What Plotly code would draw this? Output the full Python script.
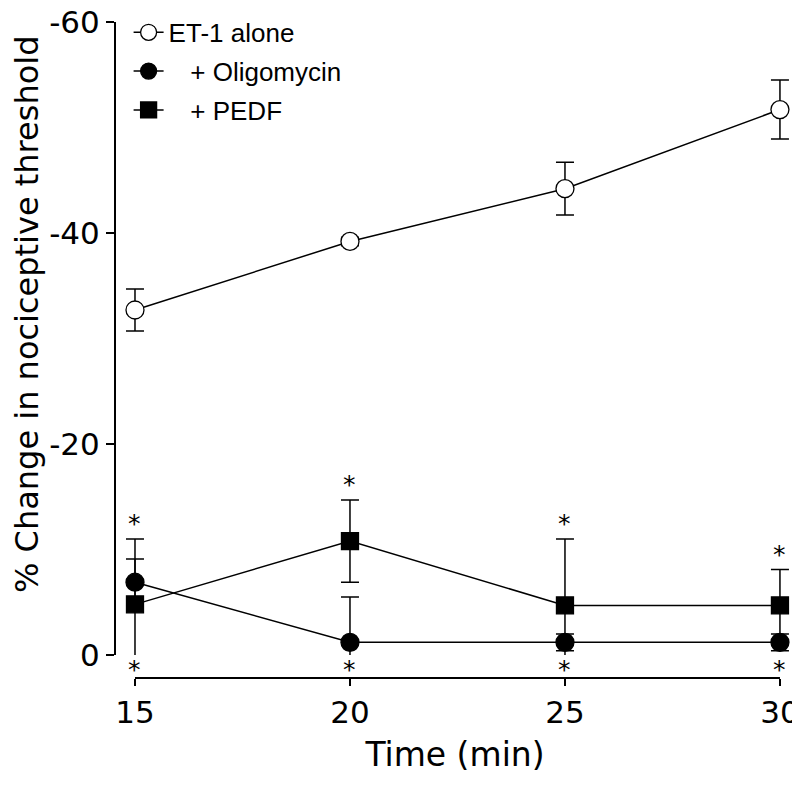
import plotly.graph_objects as go

# ---- data ----
time_min = [15, 20, 25, 30]

et1_alone = [-32.7, -39.2, -44.2, -51.7]
et1_alone_sem = [2.0, 0.4, 2.5, 2.8]

oligomycin = [-6.9, -1.2, -1.2, -1.2]
oligomycin_sem = [2.2, 4.3, 0.8, 0.8]

pedf = [-4.8, -10.8, -4.7, -4.7]
pedf_sem = [6.2, 3.9, 6.3, 3.4]

y_ticks = [0, -20, -40, -60]
y_tick_text = ["0", "-20", "-40", "-60"]
x_ticks = [15, 20, 25, 30]
x_tick_text = ["15", "20", "25", "30"]

series_names = ["ET-1 alone", "\u00a0\u00a0\u00a0+ Oligomycin", "\u00a0\u00a0\u00a0+ PEDF"]

FONT = "DejaVu Sans"
LEG_FONT = "Liberation Sans"

# page body adds an 8px offset, so the figure is sized to fit the window
W, H = 792, 766
ML, MR, MT, MB = 107, 5, 14, 96
PW, PH = W - ML - MR, H - MT - MB

fig = go.Figure()


def add_series(name, vals, errs, symbol, fill):
    fig.add_trace(go.Scatter(
        x=time_min, y=vals, name=name, mode="lines+markers",
        legendgroup=name,
        line=dict(color="black", width=1.5),
        marker=dict(symbol=symbol, size=18 if symbol == "circle" else 17,
                    color=fill, line=dict(color="black", width=1.3)),
        error_y=dict(type="data", array=errs, arrayminus=errs, symmetric=False,
                     color="black", thickness=1.5, width=9),
        cliponaxis=True,
    ))


add_series(series_names[0], et1_alone, et1_alone_sem, "circle", "white")
add_series(series_names[1], oligomycin, oligomycin_sem, "circle", "black")
add_series(series_names[2], pedf, pedf_sem, "square", "black")

# significance asterisks
annots = []
for t, v, e in zip(time_min, pedf, pedf_sem):
    annots.append(dict(x=t, y=v - e, xref="x", yref="y", text="*", showarrow=False,
                       yshift=15, font=dict(family=FONT, size=25, color="black")))
for t in time_min:
    annots.append(dict(x=t, y=0, xref="x", yref="y", text="*", showarrow=False,
                       yshift=-14, font=dict(family=FONT, size=25, color="black")))

# y-axis title as annotation (centred like the reference)
annots.append(dict(x=(19 - ML) / PW, y=(MT + PH - 307) / PH, xref="paper", yref="paper",
                   text="% Change in nociceptive threshold", textangle=-90,
                   showarrow=False, xanchor="center", yanchor="middle",
                   font=dict(family=FONT, size=32, color="black")))

fig.update_layout(
    width=W, height=H,
    paper_bgcolor="white", plot_bgcolor="white",
    margin=dict(l=ML, r=MR, t=MT, b=MB, autoexpand=False),
    showlegend=True,
    legend=dict(x=0.02, y=1.02, xanchor="left", yanchor="top",
                font=dict(family=LEG_FONT, size=26, color="black"),
                bgcolor="rgba(0,0,0,0)", tracegroupgap=2, itemwidth=30),
    annotations=annots,
    xaxis=dict(range=[14.535, 30.35], tickvals=x_ticks, ticktext=x_tick_text,
               ticks="outside", ticklen=7, ticklabeloverflow="allow",
               tickwidth=1.5, tickcolor="black", showline=False, showgrid=False,
               zeroline=False, anchor="free", position=0, automargin=False,
               tickfont=dict(family=FONT, size=31, color="black"),
               title=dict(text="Time (min)", font=dict(family=FONT, size=33, color="black"),
                          standoff=19)),
    yaxis=dict(range=[0, -60], domain=[23 / PH, 1], tickvals=y_ticks, ticktext=y_tick_text,
               ticks="outside", automargin=False, ticklabeloverflow="allow",
               ticklen=8, tickwidth=1.5, tickcolor="black", showline=False,
               showgrid=False, zeroline=False,
               tickfont=dict(family=FONT, size=31, color="black")),
    shapes=[
        dict(type="line", xref="paper", yref="y", x0=0, x1=0, y0=0, y1=-60,
             line=dict(color="black", width=2)),
        dict(type="line", xref="x", yref="paper", x0=15, x1=30, y0=0, y1=0,
             line=dict(color="black", width=2)),
    ],
)

fig.write_html("out.html")
